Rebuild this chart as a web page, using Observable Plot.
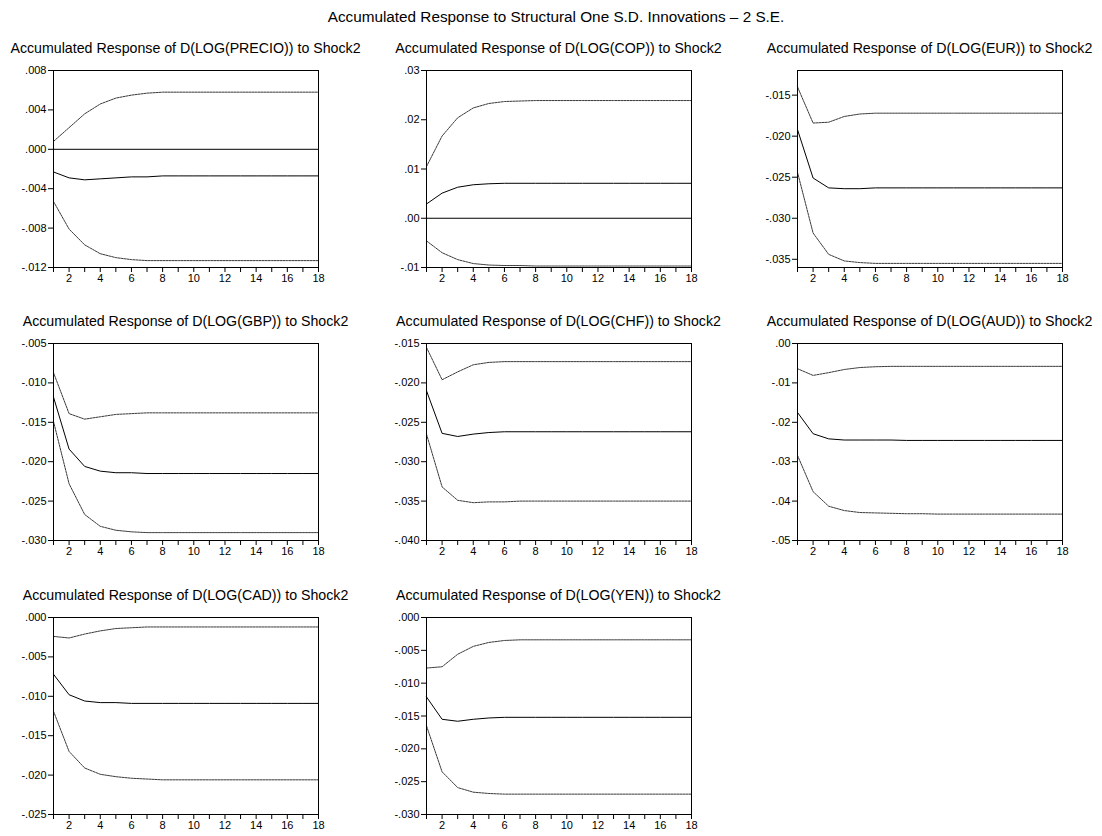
<!DOCTYPE html>
<html><head><meta charset="utf-8">
<script src="https://cdn.jsdelivr.net/npm/d3@7"></script>
<script src="https://cdn.jsdelivr.net/npm/@observablehq/plot@0.6"></script>
<style>
body{margin:0;background:#fff;}
#root{position:relative;width:1102px;height:836px;font-family:"Liberation Sans",Arial,sans-serif;color:#000;}
.ttl{position:absolute;white-space:nowrap;font-size:14.2px;line-height:16px;transform:translateX(-50%);}
.main{position:absolute;white-space:nowrap;font-size:15.3px;line-height:17px;transform:translateX(-50%);}
.panel{position:absolute;}
</style></head><body><div id="root"></div><script>
const mainTitle = "Accumulated Response to Structural One S.D. Innovations \u2013 2 S.E.";
const periods = [1,2,3,4,5,6,7,8,9,10,11,12,13,14,15,16,17,18];
const xLabelTicks = [2,4,6,8,10,12,14,16,18];

const precioUpper = [0.0008,0.0022,0.0036,0.0046,0.0052,0.0055,0.0057,0.0058,0.0058,0.0058,0.0058,0.0058,0.0058,0.0058,0.0058,0.0058,0.0058,0.0058];
const precioMid   = [-0.0023,-0.0029,-0.0031,-0.0030,-0.0029,-0.0028,-0.0028,-0.0027,-0.0027,-0.0027,-0.0027,-0.0027,-0.0027,-0.0027,-0.0027,-0.0027,-0.0027,-0.0027];
const precioLower = [-0.0053,-0.0081,-0.0097,-0.0106,-0.0110,-0.0112,-0.0113,-0.0113,-0.0113,-0.0113,-0.0113,-0.0113,-0.0113,-0.0113,-0.0113,-0.0113,-0.0113,-0.0113];

const copUpper = [0.0105,0.0167,0.0204,0.0224,0.0233,0.0237,0.0238,0.0239,0.0239,0.0239,0.0239,0.0239,0.0239,0.0239,0.0239,0.0239,0.0239,0.0239];
const copMid   = [0.0029,0.0051,0.0063,0.0068,0.0070,0.0071,0.0071,0.0071,0.0071,0.0071,0.0071,0.0071,0.0071,0.0071,0.0071,0.0071,0.0071,0.0071];
const copLower = [-0.0046,-0.0070,-0.0084,-0.0092,-0.0095,-0.0096,-0.0096,-0.0097,-0.0097,-0.0097,-0.0097,-0.0097,-0.0097,-0.0097,-0.0097,-0.0097,-0.0097,-0.0097];

const eurUpper = [-0.0140,-0.0184,-0.0183,-0.0176,-0.0173,-0.0172,-0.0172,-0.0172,-0.0172,-0.0172,-0.0172,-0.0172,-0.0172,-0.0172,-0.0172,-0.0172,-0.0172,-0.0172];
const eurMid   = [-0.0192,-0.0251,-0.0263,-0.0264,-0.0264,-0.0263,-0.0263,-0.0263,-0.0263,-0.0263,-0.0263,-0.0263,-0.0263,-0.0263,-0.0263,-0.0263,-0.0263,-0.0263];
const eurLower = [-0.0244,-0.0318,-0.0344,-0.0352,-0.0354,-0.0355,-0.0355,-0.0355,-0.0355,-0.0355,-0.0355,-0.0355,-0.0355,-0.0355,-0.0355,-0.0355,-0.0355,-0.0355];

const gbpUpper = [-0.0087,-0.0139,-0.0146,-0.0143,-0.0140,-0.0139,-0.0138,-0.0138,-0.0138,-0.0138,-0.0138,-0.0138,-0.0138,-0.0138,-0.0138,-0.0138,-0.0138,-0.0138];
const gbpMid   = [-0.0118,-0.0184,-0.0206,-0.0212,-0.0214,-0.0214,-0.0215,-0.0215,-0.0215,-0.0215,-0.0215,-0.0215,-0.0215,-0.0215,-0.0215,-0.0215,-0.0215,-0.0215];
const gbpLower = [-0.0149,-0.0228,-0.0267,-0.0282,-0.0287,-0.0289,-0.0290,-0.0290,-0.0290,-0.0290,-0.0290,-0.0290,-0.0290,-0.0290,-0.0290,-0.0290,-0.0290,-0.0290];

const chfUpper = [-0.0155,-0.0196,-0.0186,-0.0177,-0.0174,-0.0173,-0.0173,-0.0173,-0.0173,-0.0173,-0.0173,-0.0173,-0.0173,-0.0173,-0.0173,-0.0173,-0.0173,-0.0173];
const chfMid   = [-0.0210,-0.0264,-0.0268,-0.0265,-0.0263,-0.0262,-0.0262,-0.0262,-0.0262,-0.0262,-0.0262,-0.0262,-0.0262,-0.0262,-0.0262,-0.0262,-0.0262,-0.0262];
const chfLower = [-0.0265,-0.0332,-0.0349,-0.0352,-0.0351,-0.0351,-0.0350,-0.0350,-0.0350,-0.0350,-0.0350,-0.0350,-0.0350,-0.0350,-0.0350,-0.0350,-0.0350,-0.0350];

const audUpper = [-0.0064,-0.0081,-0.0074,-0.0066,-0.0061,-0.0059,-0.0058,-0.0058,-0.0058,-0.0058,-0.0058,-0.0058,-0.0058,-0.0058,-0.0058,-0.0058,-0.0058,-0.0058];
const audMid   = [-0.0175,-0.0229,-0.0242,-0.0245,-0.0245,-0.0245,-0.0245,-0.0246,-0.0246,-0.0246,-0.0246,-0.0246,-0.0246,-0.0246,-0.0246,-0.0246,-0.0246,-0.0246];
const audLower = [-0.0284,-0.0376,-0.0413,-0.0424,-0.0429,-0.0430,-0.0431,-0.0432,-0.0432,-0.0433,-0.0433,-0.0433,-0.0433,-0.0433,-0.0433,-0.0433,-0.0433,-0.0433];

const cadUpper = [-0.0024,-0.0026,-0.0021,-0.0017,-0.0014,-0.0013,-0.0012,-0.0012,-0.0012,-0.0012,-0.0012,-0.0012,-0.0012,-0.0012,-0.0012,-0.0012,-0.0012,-0.0012];
const cadMid   = [-0.0072,-0.0098,-0.0106,-0.0108,-0.0108,-0.0109,-0.0109,-0.0109,-0.0109,-0.0109,-0.0109,-0.0109,-0.0109,-0.0109,-0.0109,-0.0109,-0.0109,-0.0109];
const cadLower = [-0.0119,-0.0170,-0.0191,-0.0199,-0.0202,-0.0204,-0.0205,-0.0206,-0.0206,-0.0206,-0.0206,-0.0206,-0.0206,-0.0206,-0.0206,-0.0206,-0.0206,-0.0206];

const yenUpper = [-0.0077,-0.0075,-0.0056,-0.0044,-0.0038,-0.0035,-0.0034,-0.0034,-0.0034,-0.0034,-0.0034,-0.0034,-0.0034,-0.0034,-0.0034,-0.0034,-0.0034,-0.0034];
const yenMid   = [-0.0121,-0.0155,-0.0158,-0.0155,-0.0153,-0.0152,-0.0152,-0.0152,-0.0152,-0.0152,-0.0152,-0.0152,-0.0152,-0.0152,-0.0152,-0.0152,-0.0152,-0.0152];
const yenLower = [-0.0165,-0.0235,-0.0259,-0.0266,-0.0268,-0.0269,-0.0269,-0.0269,-0.0269,-0.0269,-0.0269,-0.0269,-0.0269,-0.0269,-0.0269,-0.0269,-0.0269,-0.0269];

const panelTitles = ["PRECIO","COP","EUR","GBP","CHF","AUD","CAD","YEN"].map(s => `Accumulated Response of D(LOG(${s})) to Shock2`);
const yTicks = [
  [0.008,0.004,0,-0.004,-0.008,-0.012],
  [0.03,0.02,0.01,0,-0.01],
  [-0.015,-0.020,-0.025,-0.030,-0.035],
  [-0.005,-0.010,-0.015,-0.020,-0.025,-0.030],
  [-0.015,-0.020,-0.025,-0.030,-0.035,-0.040],
  [0,-0.01,-0.02,-0.03,-0.04,-0.05],
  [0,-0.005,-0.010,-0.015,-0.020,-0.025],
  [0,-0.005,-0.010,-0.015,-0.020,-0.025,-0.030]
];
const yDomains = [[-0.012,0.008],[-0.01,0.03],[-0.036,-0.012],[-0.030,-0.005],[-0.040,-0.015],[-0.05,0],[-0.025,0],[-0.030,0]];
const yDigits = [3,2,3,3,3,2,3,3];
const uppers = [precioUpper,copUpper,eurUpper,gbpUpper,chfUpper,audUpper,cadUpper,yenUpper];
const mids   = [precioMid,copMid,eurMid,gbpMid,chfMid,audMid,cadMid,yenMid];
const lowers = [precioLower,copLower,eurLower,gbpLower,chfLower,audLower,cadLower,yenLower];

// layout
const frameLefts = [53, 426, 797];
const frameTops = [70, 343, 617];
const FW = 265, FH = 197;
const ML = 45, MR = 6, MT = 5, MB = 24;

const root = document.getElementById("root");
const mt = document.createElement("div");
mt.className = "main"; mt.textContent = mainTitle;
mt.style.left = "556px"; mt.style.top = "8px";
root.appendChild(mt);

const fmt = digits => v => (v < 0 ? "-" : "") + Math.abs(v).toFixed(digits).replace(/^0/, "");

panelTitles.forEach((title, k) => {
  const col = k % 3, row = Math.floor(k / 3);
  const fl = frameLefts[col], ft = frameTops[row];
  const data = periods.map((h, i) => ({h, upper: uppers[k][i], mid: mids[k][i], lower: lowers[k][i]}));
  const hasZero = yDomains[k][0] < 0 && yDomains[k][1] > 0;
  const chart = Plot.plot({
    width: ML + FW + MR, height: MT + FH + MB,
    marginLeft: ML, marginRight: MR, marginTop: MT, marginBottom: MB,
    style: {fontFamily: "'Liberation Sans', Arial, sans-serif", fontSize: "11px", color: "#000", background: "transparent", overflow: "visible"},
    x: {domain: [1, 18]},
    y: {domain: yDomains[k]},
    marks: [
      Plot.axisX({ticks: periods, tickSize: 5, tickPadding: 2, tickFormat: d => xLabelTicks.includes(d) ? String(d) : "", label: null}),
      Plot.axisY({ticks: yTicks[k], tickSize: 5, tickPadding: 2, tickFormat: fmt(yDigits[k]), label: null}),
      hasZero ? Plot.ruleY([0], {stroke: "#000", strokeWidth: 1}) : null,
      Plot.line(data, {x: "h", y: "upper", stroke: "#222", strokeWidth: 0.9, strokeDasharray: "2,1"}),
      Plot.line(data, {x: "h", y: "lower", stroke: "#222", strokeWidth: 0.9, strokeDasharray: "2,1"}),
      Plot.line(data, {x: "h", y: "mid", stroke: "#000", strokeWidth: 1}),
      Plot.frame({stroke: "#000", strokeWidth: 1})
    ]
  });
  const wrap = document.createElement("div");
  wrap.className = "panel";
  wrap.style.left = (fl - ML) + "px";
  wrap.style.top = (ft - MT) + "px";
  wrap.appendChild(chart);
  root.appendChild(wrap);

  const t = document.createElement("div");
  t.className = "ttl"; t.textContent = title;
  t.style.left = (fl + FW / 2) + "px";
  t.style.top = (ft - 30) + "px";
  root.appendChild(t);
});
</script></body></html>
